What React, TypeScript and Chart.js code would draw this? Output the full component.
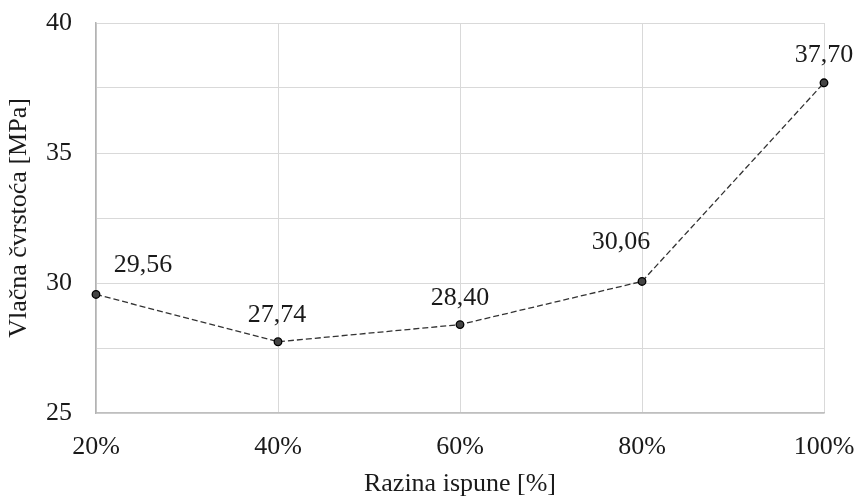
import React, { useEffect, useRef } from "react";
import { Chart, registerables } from "chart.js";

Chart.register(...registerables);

const categories = ["20%", "40%", "60%", "80%", "100%"];
const values = [29.56, 27.74, 28.4, 30.06, 37.7];
const valueLabels = ["29,56", "27,74", "28,40", "30,06", "37,70"];
const yTicks = [25, 30, 35, 40];

const FONT = "'Liberation Serif', 'Times New Roman', serif";
// label offsets relative to each point (style only)
const LABEL_OFFSETS: [number, number][] = [
  [47, -31],
  [-1, -29],
  [0, -29],
  [-21, -41],
  [0, -30],
];

const labelPlugin = {
  id: "valueLabels",
  afterDatasetsDraw(chart: any) {
    const meta = chart.getDatasetMeta(0);
    const ctx = chart.ctx;
    ctx.save();
    ctx.font = `26px ${FONT}`;
    ctx.fillStyle = "#1a1a1a";
    ctx.textAlign = "center";
    ctx.textBaseline = "alphabetic";
    meta.data.forEach((pt: any, i: number) => {
      const [dx, dy] = LABEL_OFFSETS[i] || [0, -30];
      ctx.fillText(valueLabels[i], pt.x + dx, pt.y + dy + 9);
    });
    ctx.restore();
  },
};

export default function App() {
  const ref = useRef<HTMLCanvasElement>(null);
  useEffect(() => {
    document.body.style.margin = "0";
    const chart = new Chart(ref.current!, {
      type: "line",
      data: {
        labels: categories,
        datasets: [
          {
            data: values,
            borderColor: "#333333",
            borderWidth: 1.3,
            borderDash: [6, 3],
            pointRadius: 3.8,
            pointBackgroundColor: "#444444",
            pointBorderColor: "#000000",
            pointBorderWidth: 1.3,
            tension: 0,
          },
        ],
      },
      options: {
        animation: false,
        responsive: false,
        maintainAspectRatio: false,
        layout: { padding: { top: 23, right: 37, left: 0, bottom: 0 } },
        plugins: { legend: { display: false }, tooltip: { enabled: false } },
        scales: {
          x: {
            grid: { color: "#d9d9d9", lineWidth: 1, drawTicks: false },
            border: { color: "#bfbfbf", width: 1.5 },
            ticks: {
              color: "#1a1a1a",
              font: { family: FONT, size: 26 },
              padding: 19,
              maxRotation: 0,
            },
            title: {
              display: true,
              text: "Razina ispune [%]",
              color: "#1a1a1a",
              font: { family: FONT, size: 26 },
              padding: { top: 0, bottom: 0 },
            },
            afterFit(scale: any) {
              scale.height = 87;
              scale.paddingLeft = 0;
              scale.paddingRight = 0;
            },
          },
          y: {
            min: 25,
            max: 40,
            grid: { color: "#d9d9d9", lineWidth: 1, drawTicks: false },
            border: { color: "#b3b3b3", width: 1.5 },
            ticks: {
              stepSize: 2.5,
              color: "#1a1a1a",
              font: { family: FONT, size: 26 },
              padding: 24,
              callback: (v: any) => (yTicks.includes(Number(v)) ? String(v) : ""),
            },
            title: {
              display: true,
              text: "Vlačna čvrstoća [MPa]",
              color: "#1a1a1a",
              font: { family: FONT, size: 26 },
              padding: { top: 4, bottom: 0 },
            },
            afterFit(scale: any) {
              scale.width = 96;
              scale.paddingTop = 0;
              scale.paddingBottom = 0;
            },
          },
        },
      },
      plugins: [labelPlugin],
    });
    return () => chart.destroy();
  }, []);
  return (
    <div style={{ width: 861, height: 500 }}>
      <canvas ref={ref} width={861} height={500} />
    </div>
  );
}
